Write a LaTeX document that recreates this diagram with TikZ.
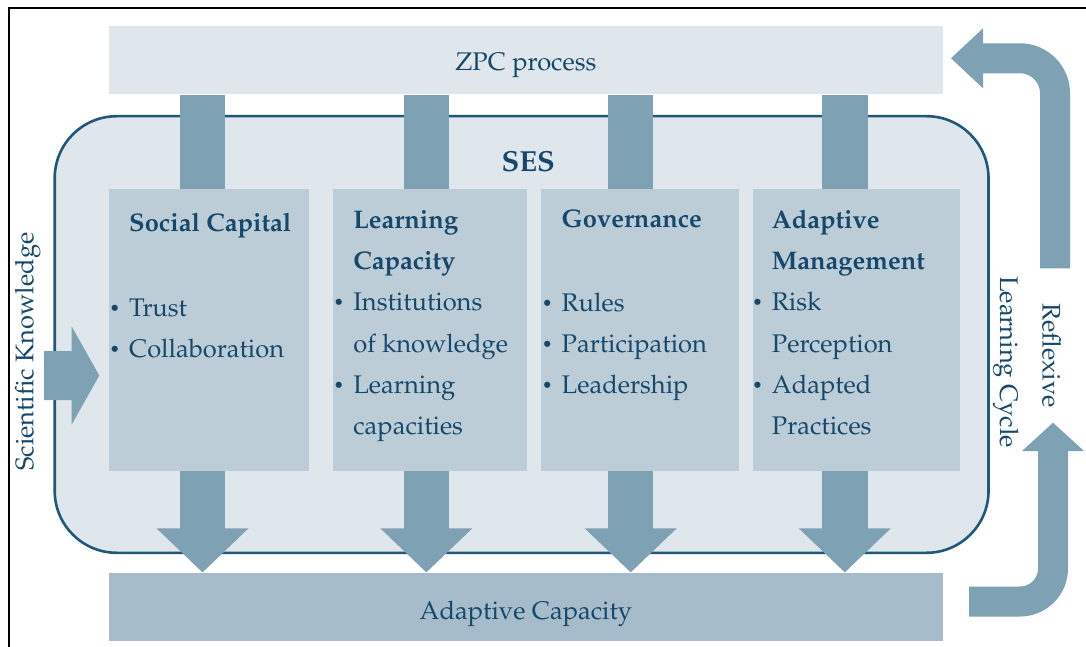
\documentclass[tikz,border=0pt]{standalone}
\usepackage[T1]{fontenc}
\usepackage{mathpazo}
\usepackage{tikz}
\definecolor{sesfill}{RGB}{223,230,236}
\definecolor{sesline}{RGB}{31,88,122}
\definecolor{boxfill}{RGB}{189,205,216}
\definecolor{acfill}{RGB}{166,188,202}
\definecolor{barcolor}{RGB}{127,161,180}
\definecolor{txtcolor}{RGB}{21,72,106}
\newcommand{\itm}{\llap{\raisebox{2pt}{\fontsize{18}{18}\selectfont\textbullet}\hspace{9pt}}}

\begin{document}
\begin{tikzpicture}[
    x=1pt, y=-1pt,
    every node/.style={text=txtcolor, font=\fontsize{25.5}{41.3}\selectfont},
    widebox/.style={rectangle, inner sep=0, minimum width=833.7, minimum height=68.3, text depth=0pt},
    sesbox/.style={rectangle, draw=sesline, line width=2.6, fill=sesfill, rounded corners=62, minimum width=933.8, minimum height=436.6},
    capbox/.style={rectangle, anchor=north west, fill=boxfill, inner sep=0, minimum height=282.3},
    itemtext/.style={anchor=north west, inner sep=0, align=left},
    sidetext/.style={anchor=base, inner sep=0},
    bar/.style={draw=barcolor, line width=45.5},
    loopline/.style={draw=barcolor, line width=30}
]
\useasboundingbox (0,0) rectangle (1086,647);
\draw[line width=1.8] (9,650) -- (9,8.2) -- (1090,8.2);

\node[widebox, fill=sesfill, text height=20] (zpc) at (525.9,60.2) {ZPC process};
\node[sesbox] (ses) at (521.6,334.5) {};
\node[widebox, fill=acfill, text height=24.6] (ac) at (525.9,606.7) {Adaptive Capacity};

% the four SES components
\node[capbox, minimum width=199.3] (c1) at (109,188.7) {};
\node[capbox, minimum width=193.8] (c2) at (332.7,188.7) {};
\node[capbox, minimum width=198] (c3) at (541,188.7) {};
\node[capbox, minimum width=207] (c4) at (752.3,188.7) {};

\node[font=\bfseries\fontsize{29}{29}\selectfont, anchor=base] (sestitle) at (528.3,171.7) {SES};

\node[itemtext] (t1) at ([shift={(20,14)}]c1.north west)
    {\strut\textbf{Social Capital}\\[43pt] \itm Trust\\ \itm Collaboration};
\node[itemtext] (t2) at ([shift={(20.5,10.4)}]c2.north west)
    {\strut\textbf{Learning}\\ \textbf{Capacity}\\ \itm Institutions\\ of knowledge\\ \itm Learning\\ capacities};
\node[itemtext] (t3) at ([shift={(20.5,10.1)}]c3.north west)
    {\strut\textbf{Governance}\\[42pt] \itm Rules\\ \itm Participation\\ \itm Leadership};
\node[itemtext] (t4) at ([shift={(19.4,10.4)}]c4.north west)
    {\strut\textbf{Adaptive}\\ \textbf{Management}\\ \itm Risk\\ Perception\\ \itm Adapted\\ Practices};

% bars from ZPC and arrows to adaptive capacity
\foreach \n/\dx in {c1/93.5, c2/93.6, c3/89.7, c4/92.5} {
    \coordinate (\n-bar) at ([xshift=\dx]\n.north west);
    \draw[bar] (\n-bar |- zpc.south) -- (\n-bar);
    \draw[bar] (\n-bar |- \n.south) -- ++(0,60);
    \fill[barcolor] (\n-bar |- ac.north) -- ++(-46,-44) -- ++(92,0) -- cycle;
}

% scientific knowledge
\node[sidetext, rotate=90] (sk) at (33.4,351.5) {Scientific Knowledge};
\coordinate (skin) at (44,375.5);
\fill[barcolor] (skin) ++(0,-24.5) -- ++(27.7,0) -- ++(0,-24.5) -- ++(27.6,49)
    -- ++(-27.6,49) -- ++(0,-24.5) -- ++(-27.7,0) -- cycle;

% reflexive learning cycle
\node[sidetext, rotate=-90] (lc) at (1000,362) {Learning Cycle};
\node[sidetext, rotate=-90] (rf) at (1042.7,355.7) {Reflexive};
\coordinate (loopa) at (969,601.5);
\coordinate (loopb) at (1053,450);
\draw[loopline, rounded corners=33] (loopa) -| (loopb);
\fill[barcolor] (loopb) ++(-31,1) -- ++(31,-28.3) -- ++(31,28.3) -- cycle;
\coordinate (loopc) at (1055,268.3);
\coordinate (loopd) at (982,58.3);
\draw[loopline, rounded corners=35] (loopc) |- (loopd);
\fill[barcolor] (loopd) ++(1,-30) -- ++(-32,30) -- ++(32,30) -- cycle;
\end{tikzpicture}
\end{document}
